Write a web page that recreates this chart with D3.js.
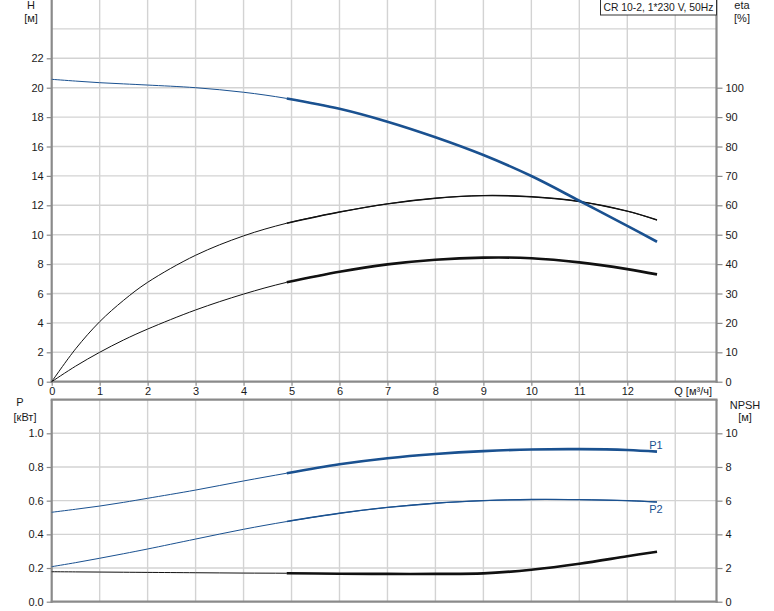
<!DOCTYPE html>
<html><head><meta charset="utf-8">
<script src="https://cdn.jsdelivr.net/npm/d3@7"></script>
<style>
body{margin:0;background:#fff;}
svg{display:block;font-family:"Liberation Sans",Arial,sans-serif;}
</style></head>
<body>
<svg id="c" width="774" height="611"></svg>
<script>
// ---- data ----
const title = "CR 10-2, 1*230 V, 50Hz";
const qPts   = [0, 0.5, 1, 1.5, 2, 3, 4, 4.9, 6, 7, 8, 9, 10, 11, 12, 12.62];
const hVals  = [20.57, 20.45, 20.34, 20.26, 20.18, 20.0, 19.69, 19.27, 18.57, 17.69, 16.63, 15.42, 13.99, 12.31, 10.6, 9.52];
const etaVals  = [0, 11.2, 20.4, 27.7, 33.8, 43.0, 49.6, 53.9, 57.7, 60.5, 62.4, 63.3, 62.9, 61.3, 58.0, 55.0];
const etaTVals = [0, 5.3, 10, 14.2, 17.9, 24.4, 29.8, 33.8, 37.4, 39.9, 41.5, 42.2, 42.0, 40.6, 38.3, 36.5];
const p1Vals = [0.531, 0.549, 0.568, 0.59, 0.614, 0.663, 0.717, 0.763, 0.816, 0.852, 0.877, 0.894, 0.904, 0.906, 0.901, 0.891];
const p2Vals = [0.208, 0.232, 0.258, 0.285, 0.313, 0.372, 0.43, 0.476, 0.525, 0.56, 0.585, 0.6, 0.607, 0.606, 0.6, 0.592];
const npshVals = [1.78, 1.77, 1.76, 1.75, 1.74, 1.72, 1.70, 1.69, 1.66, 1.65, 1.65, 1.68, 1.90, 2.25, 2.70, 2.97];
const opRange = [4.9, 12.62];
const qTicks = [0,1,2,3,4,5,6,7,8,9,10,11,12];
const qGrid = [1,2,3,4,5,6,7,8,9,10,11,12,13];
const hTicks = [0,2,4,6,8,10,12,14,16,18,20,22];
const hGrid = [2,4,6,8,10,12,14,16,18,20,22,24];
const etaTicks = [0,10,20,30,40,50,60,70,80,90,100];
const pTicks = [0,0.2,0.4,0.6,0.8,1.0];
const pGrid = [0.2,0.4,0.6,0.8,1.0];
const npshTicks = [0,2,4,6,8,10];

// ---- layout ----
const svg = d3.select("#c");
const X0 = 51.7, X1 = 716.5;
const T_BOT = 381.7, T_TOP = 381.7 - 26*14.7;
const B_BOT = 601.7, B_TOP = 601.7 - 1.2*168.4;
const AX = "#8a8a8a", GRID = "#d3d3d3", BLUE = "#1a5190", TXT = "#1a1a1a";

const x = d3.scaleLinear().domain([0, 13.86]).range([X0, X1]);
const yH = d3.scaleLinear().domain([0, 26]).range([T_BOT, T_TOP]);
const yEta = d3.scaleLinear().domain([0, 130]).range([T_BOT, T_TOP]);
const yP = d3.scaleLinear().domain([0, 1.2]).range([B_BOT, B_TOP]);
const yN = d3.scaleLinear().domain([0, 12]).range([B_BOT, B_TOP]);

// grids
function vgrid(y0, y1){
  svg.append("g").selectAll("line").data(qGrid).join("line")
    .attr("x1", d=>x(d)).attr("x2", d=>x(d)).attr("y1", y0).attr("y2", y1)
    .attr("stroke", GRID).attr("stroke-width", 1.4);
}
function hgrid(vals, sc){
  svg.append("g").selectAll("line").data(vals).join("line")
    .attr("x1", X0).attr("x2", X1).attr("y1", d=>sc(d)).attr("y2", d=>sc(d))
    .attr("stroke", GRID).attr("stroke-width", 1.4);
}
vgrid(T_TOP, T_BOT); hgrid(hGrid, yH);
vgrid(B_TOP, B_BOT); hgrid(pGrid, yP);

// axes
function styleAxis(g){
  g.select(".domain").remove();
  g.selectAll(".tick line").attr("stroke", AX).attr("stroke-width", 1.2);
  g.selectAll(".tick text").attr("fill", TXT).style("font-size", "11px").style("font-family", '"Liberation Sans",Arial,sans-serif');
}
svg.append("g").attr("transform", `translate(${X0},0)`)
  .call(d3.axisLeft(yH).tickValues(hTicks).tickSize(5).tickPadding(3).tickFormat(d3.format("d"))).call(styleAxis);
svg.append("g").attr("transform", `translate(${X1},0)`)
  .call(d3.axisRight(yEta).tickValues(etaTicks).tickSize(6).tickPadding(3).tickFormat(d3.format("d"))).call(styleAxis);
svg.append("g").attr("transform", `translate(0,${T_BOT})`)
  .call(d3.axisBottom(x).tickValues(qTicks).tickSize(4).tickPadding(2).tickFormat(d3.format("d"))).call(styleAxis);
svg.append("g").attr("transform", `translate(${X0},0)`)
  .call(d3.axisLeft(yP).tickValues(pTicks).tickSize(5).tickPadding(3).tickFormat(d3.format(".1f"))).call(styleAxis);
svg.append("g").attr("transform", `translate(${X1},0)`)
  .call(d3.axisRight(yN).tickValues(npshTicks).tickSize(6).tickPadding(3).tickFormat(d3.format("d"))).call(styleAxis);

// frame lines
const frame = svg.append("g").attr("stroke", AX).attr("stroke-width", 2.2);
frame.append("line").attr("x1", X0).attr("x2", X0).attr("y1", T_TOP).attr("y2", T_BOT+1);
frame.append("line").attr("x1", X1).attr("x2", X1).attr("y1", T_TOP).attr("y2", T_BOT+1);
frame.append("line").attr("x1", X0-1).attr("x2", X1+1).attr("y1", T_BOT).attr("y2", T_BOT);
frame.append("line").attr("x1", X0).attr("x2", X0).attr("y1", B_TOP).attr("y2", B_BOT+1);
frame.append("line").attr("x1", X1).attr("x2", X1).attr("y1", B_TOP).attr("y2", B_BOT+1);
frame.append("line").attr("x1", X0-1).attr("x2", X1+1).attr("y1", B_TOP).attr("y2", B_TOP);
frame.append("line").attr("x1", X0-1).attr("x2", X1+1).attr("y1", B_BOT).attr("y2", B_BOT);

// curves
function curve(vals, ys, color, thin, thick){
  const pts = qPts.map((q,i)=>[q, vals[i]]);
  const line = d3.line().x(d=>x(d[0])).y(d=>ys(d[1])).curve(d3.curveCatmullRom.alpha(0.5));
  svg.append("path").attr("d", line(pts)).attr("fill","none").attr("stroke", color).attr("stroke-width", thin);
  const op = pts.filter(d=>d[0]>=opRange[0] && d[0]<=opRange[1]);
  svg.append("path").attr("d", line(op)).attr("fill","none").attr("stroke", color)
    .attr("stroke-width", thick).attr("stroke-linecap","butt");
}
curve(etaVals, yEta, "#111", 1, 1.4);
curve(etaTVals, yEta, "#111", 1, 2.6);
curve(hVals, yH, BLUE, 1, 2.6);
curve(p1Vals, yP, BLUE, 1, 2.6);
curve(p2Vals, yP, BLUE, 1, 1.4);
curve(npshVals, yN, "#111", 1, 2.6);

// texts
function txt(s, xx, yy, anchor, color){
  return svg.append("text").attr("x", xx).attr("y", yy).attr("text-anchor", anchor||"middle")
    .attr("fill", color||TXT).style("font-size","11px").text(s);
}
txt("H", 31, 9);
txt("[м]", 31, 22);
txt("eta", 742, 9);
txt("[%]", 742, 22);
txt("P", 20, 406);
txt("[кВт]", 25, 421);
txt("NPSH", 745, 409);
txt("[м]", 745, 421);
txt("Q [м³/ч]", 712, 395, "end");
txt("P1", 656, 449, "middle", BLUE);
txt("P2", 656, 513, "middle", BLUE);

// title box
svg.append("rect").attr("x", 600.5).attr("y", -1).attr("width", 116).attr("height", 16)
  .attr("fill", "#fff").attr("stroke", "#333").attr("stroke-width", 1);
txt(title, 603.5, 11, "start").attr("textLength", 110).attr("lengthAdjust", "spacingAndGlyphs");
</script>
</body></html>
